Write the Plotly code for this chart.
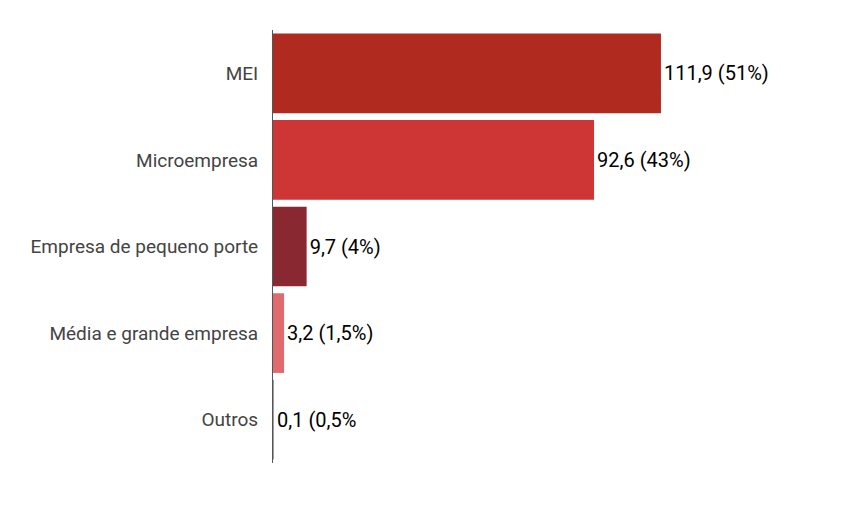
import plotly.graph_objects as go

categorias = ["MEI", "Microempresa", "Empresa de pequeno porte", "Média e grande empresa", "Outros"]
valores = [111.9, 92.6, 9.7, 3.2, 0.1]
rotulos = ["111,9 (51%)", "92,6 (43%)", "9,7 (4%)", "3,2 (1,5%)", "0,1 (0,5%"]
cores = ["#B02A20", "#CE3636", "#8A2832", "#E06B6E", "#9E9E9E"]

fig = go.Figure(go.Bar(
    x=valores, y=categorias, orientation="h",
    marker=dict(color=cores, line=dict(width=0)),
    text=rotulos, textposition="outside", cliponaxis=False,
    textfont=dict(family="Roboto", size=20, color="#000000"),
))

fig.update_layout(
    width=861, height=516,
    margin=dict(l=265, r=8, t=22, b=61),
    plot_bgcolor="white", paper_bgcolor="white",
    bargap=0.08, showlegend=False,
    font=dict(family="Roboto"),
)
fig.update_xaxes(range=[0, 169.6], visible=False)
fig.update_yaxes(autorange="reversed", showline=True, linecolor="#555555", linewidth=1,
                 ticks="", ticklabelstandoff=10,
                 tickfont=dict(family="Roboto", size=19, color="#444444"))

fig.write_html("out.html")
